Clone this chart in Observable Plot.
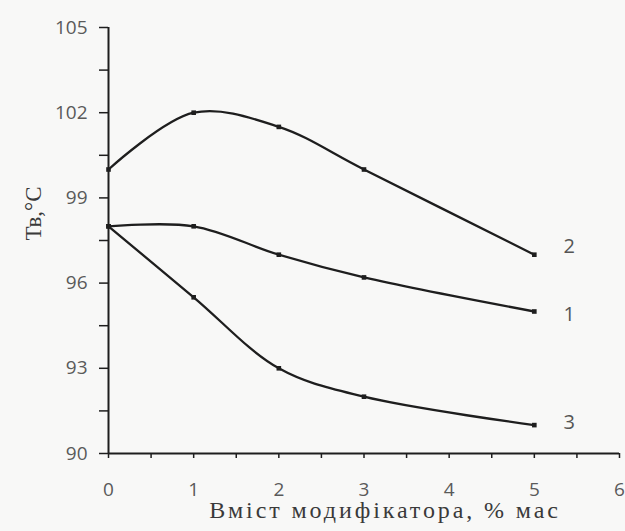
<!DOCTYPE html>
<html>
<head>
<meta charset="utf-8">
<script src="https://cdn.jsdelivr.net/npm/d3@7"></script>
<script src="https://cdn.jsdelivr.net/npm/@observablehq/plot@0.6"></script>
<style>
  html, body { margin: 0; padding: 0; background: #f8f8f7; }
  #chart svg { display: block; }
</style>
</head>
<body>
<div id="chart"></div>
<script>
// Data
const xValues = [0, 1, 2, 3, 5];
const series1 = [98, 98, 97, 96.2, 95];
const series2 = [100, 102, 101.5, 100, 97];
const series3 = [98, 95.5, 93, 92, 91];
const seriesNames = ["1", "2", "3"];
const yTicks = [90, 93, 96, 99, 102, 105];
const yMinorTicks = [91.5, 94.5, 97.5, 100.5, 103.5];
const xTicks = [0, 1, 2, 3, 4, 5, 6];
const xMinorTicks = [0.5, 1.5, 2.5, 3.5, 4.5, 5.5];
const xTitle = "Вміст модифікатора, % мас";
const yTitle = "Тв,°С";

const allSeries = [series1, series2, series3];
const rows = [];
allSeries.forEach((vals, i) => {
  vals.forEach((v, j) => rows.push({series: seriesNames[i], x: xValues[j], y: v}));
});
const lastPoints = allSeries.map((vals, i) => ({series: seriesNames[i], x: xValues[xValues.length - 1], y: vals[vals.length - 1]}));
const labelDy = {"1": 3, "2": -8, "3": -3};

const sans = "'Open Sans', 'Noto Sans', sans-serif";
const serif = "'Liberation Serif', 'DejaVu Serif', serif";
const ink = "#1e1e1e";

const chart = Plot.plot({
  width: 625,
  height: 531,
  marginLeft: 108,
  marginRight: 6,
  marginTop: 27,
  marginBottom: 78,
  style: {background: "transparent", fontFamily: sans},
  x: {domain: [0, 6]},
  y: {domain: [90, 105]},
  marks: [
    Plot.axisY({ticks: yTicks, tickSize: 9, tickPadding: 12, stroke: ink, strokeWidth: 1.5, fill: "#5a5a5a", fontSize: 19, label: null}),
    Plot.axisY({ticks: yMinorTicks, tickSize: 9, text: null, stroke: ink, strokeWidth: 1.5, label: null}),
    Plot.axisX({ticks: xTicks, tickFormat: d3.format("d"), tickSize: 5, tickPadding: 24, stroke: ink, strokeWidth: 1.5, fill: "#5a5a5a", fontSize: 19, label: null}),
    Plot.axisX({ticks: xMinorTicks, tickSize: 5, text: null, stroke: ink, strokeWidth: 1.5, label: null}),
    Plot.ruleX([0], {stroke: ink, strokeWidth: 2}),
    Plot.ruleY([90], {stroke: ink, strokeWidth: 2}),
    Plot.line(rows, {x: "x", y: "y", z: "series", curve: "catmull-rom", stroke: ink, strokeWidth: 2.3}),
    Plot.dot(rows, {x: "x", y: "y", symbol: "square", r: 2.6, fill: ink, stroke: "none"}),
    ...lastPoints.map(p => Plot.text([p], {x: "x", y: "y", text: "series", dx: 35, dy: labelDy[p.series], fill: "#555", fontSize: 20, fontFamily: sans})),
    Plot.text([xTitle], {frameAnchor: "bottom", dx: 21, dy: 64, fill: "#3a3a3a", fontSize: 24, fontFamily: serif}),
    Plot.text([yTitle], {frameAnchor: "left", dx: -75, rotate: -90, fill: "#3a3a3a", fontSize: 23, fontFamily: serif})
  ]
});
d3.select(chart).selectAll("text").filter(function() { return this.textContent === xTitle; })
  .attr("letter-spacing", "2.9px");
document.getElementById("chart").appendChild(chart);
</script>
</body>
</html>
